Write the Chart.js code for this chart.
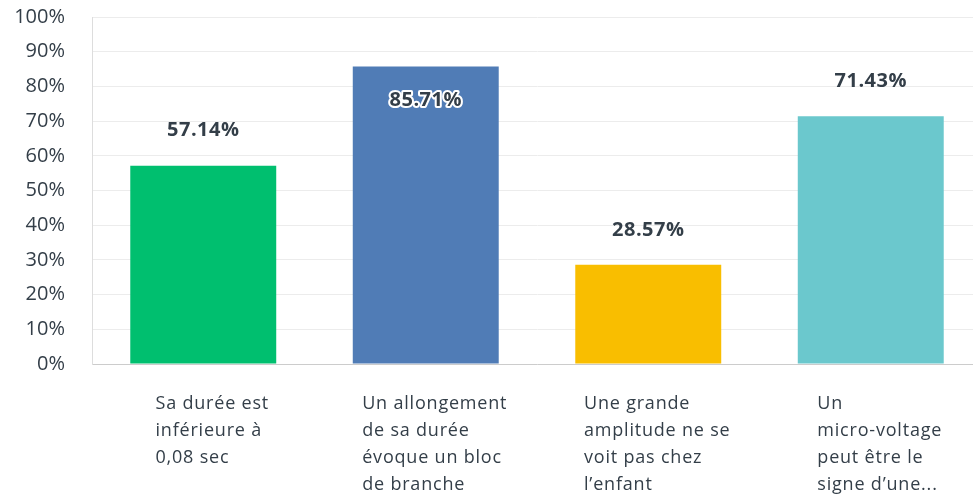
<!DOCTYPE html>
<html>
<head>
<meta charset="utf-8">
<script src="https://cdn.jsdelivr.net/npm/chart.js@4.4.1/dist/chart.umd.min.js"></script>
<style>
html,body{margin:0;padding:0;overflow:hidden;background:#fff;}
#wrap{width:990px;height:502px;position:relative;}
</style>
</head>
<body>
<div id="wrap"><canvas id="c"></canvas></div>
<script>
const categories = [
  ["Sa durée est", "inférieure à", "0,08 sec"],
  ["Un allongement", "de sa durée", "évoque un bloc", "de branche"],
  ["Une grande", "amplitude ne se", "voit pas chez", "l’enfant"],
  ["Un", "micro-voltage", "peut être le", "signe d’une..."]
];
const values = [57.14, 85.71, 28.57, 71.43];
const valueLabels = ["57.14%", "85.71%", "28.57%", "71.43%"];
const barColors = ["#00BF6F", "#507CB6", "#F9BE00", "#6BC8CD"];
const yTicks = [0, 10, 20, 30, 40, 50, 60, 70, 80, 90, 100];

const TEXT = "#333e48";
const FONT = "'Open Sans', sans-serif";

const valuePlugin = {
  id: 'valueLabels',
  afterDatasetsDraw(chart) {
    const ctx = chart.ctx;
    const meta = chart.getDatasetMeta(0);
    ctx.save();
    ctx.font = "bold 20px " + FONT;
    ctx.letterSpacing = "0.5px";
    ctx.textAlign = "center";
    ctx.textBaseline = "middle";
    meta.data.forEach((bar, i) => {
      const inside = values[i] > 80;
      const y = inside ? bar.y + 34 : bar.y - 35;
      if (inside) {
        ctx.lineWidth = 4;
        ctx.strokeStyle = "#ffffff";
        ctx.lineJoin = "round";
        ctx.strokeText(valueLabels[i], bar.x, y);
      }
      ctx.fillStyle = TEXT;
      ctx.fillText(valueLabels[i], bar.x, y);
    });
    ctx.restore();
  }
};

const catPlugin = {
  id: 'catLabels',
  afterDraw(chart) {
    const ctx = chart.ctx;
    const xs = chart.scales.x;
    const bottom = chart.chartArea.bottom;
    ctx.save();
    ctx.font = "18px " + FONT;
    ctx.letterSpacing = "0.8px";
    ctx.fillStyle = TEXT;
    ctx.textAlign = "left";
    ctx.textBaseline = "alphabetic";
    categories.forEach((lines, i) => {
      const cx = xs.getPixelForValue(i);
      const maxW = Math.max(...lines.map(l => ctx.measureText(l).width));
      const left = cx + 9 - maxW / 2;
      lines.forEach((l, j) => {
        ctx.fillText(l, left, bottom + 45 + j * 27);
      });
    });
    ctx.restore();
  }
};

new Chart(document.getElementById('c'), {
  type: 'bar',
  data: {
    labels: categories.map(c => c.join(' ')),
    datasets: [{
      data: values,
      backgroundColor: barColors,
      borderWidth: 0,
      barPercentage: 0.656,
      categoryPercentage: 1.0
    }]
  },
  options: {
    responsive: true,
    maintainAspectRatio: false,
    animation: false,
    layout: { padding: { top: 17, right: 8, bottom: 138, left: 0 } },
    plugins: { legend: { display: false }, tooltip: { enabled: false } },
    scales: {
      x: {
        grid: { display: false },
        border: { color: "#cccccc", width: 1 },
        ticks: { display: false },
        afterFit(scale) { scale.height = 0; scale.paddingTop = 0; scale.paddingBottom = 0; scale.paddingLeft = 0; scale.paddingRight = 0; }
      },
      y: {
        min: 0, max: 100,
        afterBuildTicks(scale) { scale.ticks = yTicks.map(v => ({ value: v })); },
        afterFit(scale) { scale.width = 92; scale.paddingTop = 0; scale.paddingBottom = 0; },
        grid: { color: "#ececec", drawTicks: false },
        border: { color: "#dddddd", width: 1 },
        ticks: {
          padding: 27,
          color: TEXT,
          font: { family: FONT, size: 20 },
          callback: v => v + "%"
        }
      }
    }
  },
  plugins: [valuePlugin, catPlugin]
});
</script>
</body>
</html>
